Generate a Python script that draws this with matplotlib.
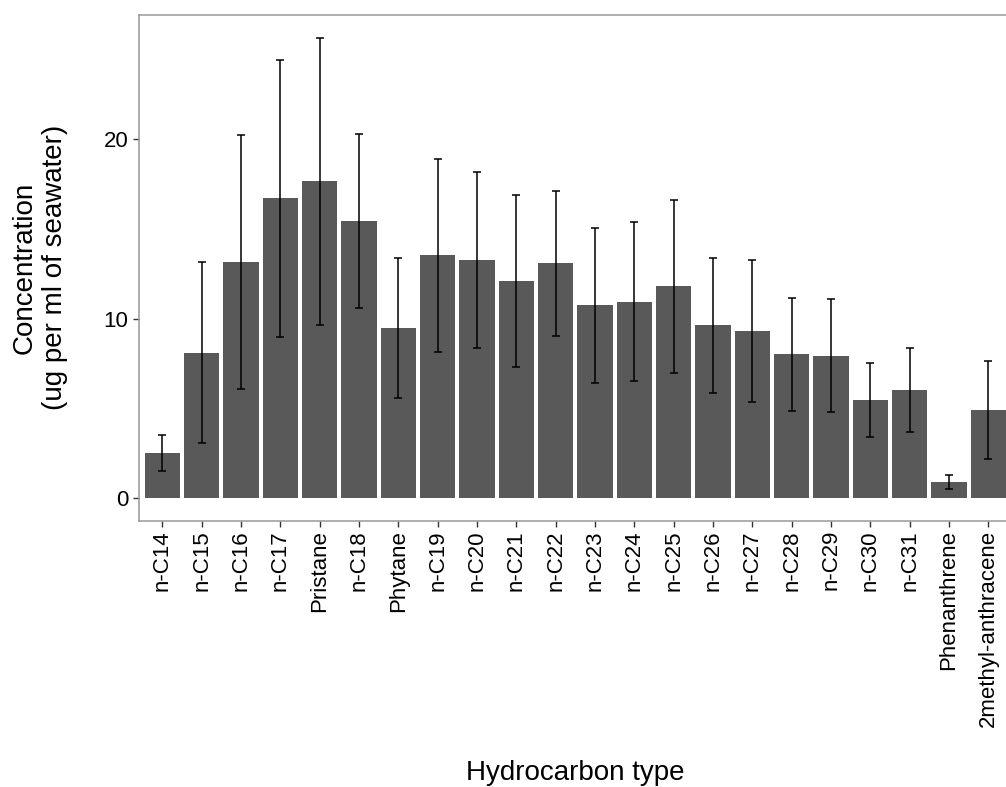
import numpy as np
import matplotlib
matplotlib.use("Agg")
import matplotlib.pyplot as plt

# Data
hydrocarbons = ["n-C14", "n-C15", "n-C16", "n-C17", "Pristane", "n-C18", "Phytane",
                "n-C19", "n-C20", "n-C21", "n-C22", "n-C23", "n-C24", "n-C25",
                "n-C26", "n-C27", "n-C28", "n-C29", "n-C30", "n-C31",
                "Phenanthrene", "2methyl-anthracene"]
mean_conc = [2.52, 8.11, 13.15, 16.70, 17.66, 15.44, 9.46,
             13.53, 13.27, 12.11, 13.08, 10.74, 10.95, 11.80,
             9.63, 9.29, 8.00, 7.94, 5.45, 6.01,
             0.89, 4.92]
conc_err = [1.00, 5.06, 7.10, 7.70, 8.00, 4.85, 3.90,
            5.37, 4.92, 4.80, 4.03, 4.32, 4.45, 4.84,
            3.77, 3.95, 3.13, 3.16, 2.05, 2.33,
            0.41, 2.72]

plt.rcParams['font.family'] = ['Liberation Sans', 'DejaVu Sans']

W, H = 1006, 787
fig = plt.figure(figsize=(W / 100, H / 100), dpi=100)
# panel runs slightly past the right edge of the picture, as in the reference
left, right, top, bottom = 138.8, 1011.9, 14.7, 521
ax = fig.add_axes([left / W, 1 - bottom / H, (right - left) / W, (bottom - top) / H])

x = np.arange(1, len(hydrocarbons) + 1)
ax.bar(x, mean_conc, width=0.9, color='#595959', zorder=2)
ax.errorbar(x, mean_conc, yerr=conc_err, fmt='none', ecolor='black',
            elinewidth=1.1, capsize=2.8, capthick=1.1, zorder=3)

ymax = max(m + e for m, e in zip(mean_conc, conc_err))
ax.set_ylim(-0.05 * ymax, 1.05 * ymax)
ax.set_xlim(0.4, len(hydrocarbons) + 0.6)

ax.set_yticks([0, 10, 20])
ax.set_xticks(x)
ax.set_xticklabels(hydrocarbons, rotation=90, fontsize=16)
ax.tick_params(axis='y', labelsize=16, pad=3)
ax.tick_params(axis='x', pad=2)
ax.tick_params(length=4.5, width=1.0, color='#333333')

for s in ax.spines.values():
    s.set_color('#999999')
    s.set_linewidth(1.1)

# axis titles placed in figure pixels, centred on the panel
fig.text((left + right) / 2 / W, 1 - 780 / H, 'Hydrocarbon type',
         fontsize=20, ha='center', va='baseline')
fig.text(40 / W, 1 - (top + bottom) / 2 / H, 'Concentration\n(ug per ml of seawater)',
         fontsize=20, ha='center', va='center', rotation=90, multialignment='center')

fig.savefig('out.png', dpi=100)
